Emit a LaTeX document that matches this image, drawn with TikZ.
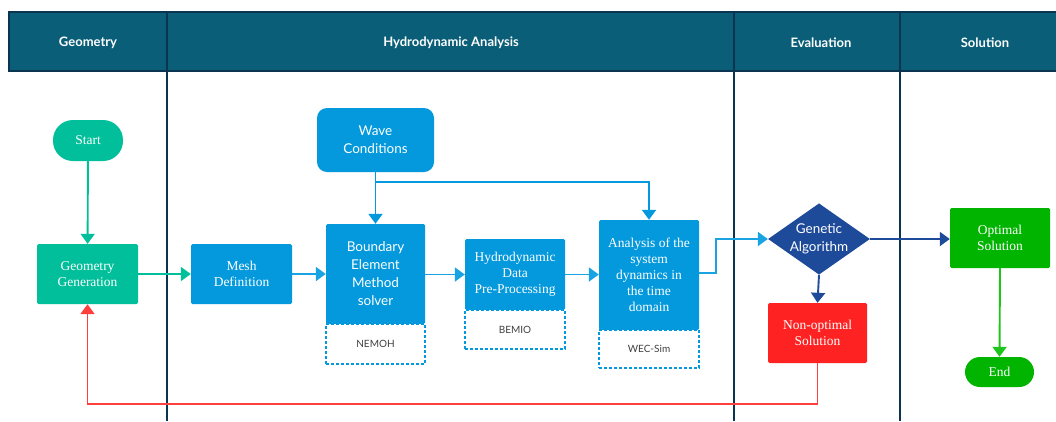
\documentclass[tikz,border=0pt]{standalone}
\usepackage{fontspec}
\setmainfont{Liberation Serif}
\newfontfamily\lato{Lato}
\usetikzlibrary{arrows.meta,shapes.geometric}
\definecolor{hdr}{HTML}{0A5E78}
\definecolor{hdrline}{HTML}{0B3450}
\definecolor{tealc}{HTML}{00BF9A}
\definecolor{bluec}{HTML}{0399DC}
\definecolor{bluel}{HTML}{1AA3E3}
\definecolor{dblue}{HTML}{1E4A9A}
\definecolor{redc}{HTML}{FF2222}
\definecolor{redl}{HTML}{FF3E3E}
\definecolor{greenc}{HTML}{00B400}
\definecolor{greenl}{HTML}{1CC41C}
\begin{document}
\begin{tikzpicture}[x=1pt,y=-1pt,
  hdrtext/.style={text=white,font=\lato\bfseries\fontsize{13}{15}\selectfont},
  lane/.style={draw=hdrline,line width=1.8pt},
  box/.style={draw=none,text=white,align=center,inner sep=0pt,rounded corners=1.5pt,font=\fontsize{13.5}{16}\selectfont},
  sbox/.style={box,font=\lato\fontsize{13.5}{18}\selectfont},
  dbox/.style={draw=bluec,dashed,dash pattern=on 3pt off 2pt,line width=1.5pt,fill=white,inner sep=0pt,text=black!75,font=\lato\fontsize{10}{12}\selectfont},
  arr/.style={line width=1.9pt,-{Triangle[width=14pt,length=10pt]}},
]
\useasboundingbox (0,0) rectangle (1056,421);
% header
\fill[hdr] (9,12) rectangle (1056,71);
\draw[hdrline,line width=1.4pt] (9,12) rectangle (1058,71);
\draw[lane] (167,12) -- (167,421);
\draw[lane] (734,12) -- (734,421);
\draw[lane] (900,12) -- (900,421);
\node[hdrtext] (h1) at (88,43) {Geometry};
\node[hdrtext] (h2) at (451,43) {Hydrodynamic Analysis};
\node[hdrtext] (h3) at (821,43) {Evaluation};
\node[hdrtext] (h4) at (985,43) {Solution};
% nodes
\node[box,fill=tealc,rounded corners=20pt,minimum width=70pt,minimum height=41pt] (start) at (88,140.5) {Start};
\node[box,fill=tealc,minimum width=101pt,minimum height=60pt] (geo) at (87.5,274) {Geometry\\Generation};
\node[box,fill=bluec,minimum width=101pt,minimum height=60pt] (mesh) at (241.5,274) {Mesh\\Definition};
\node[sbox,fill=bluec,rounded corners=10pt,minimum width=117pt,minimum height=64pt] (wave) at (375.5,140) {Wave\\Conditions};
\node[sbox,fill=bluec,minimum width=99pt,minimum height=100pt] (bem) at (375.5,274) {Boundary\\Element\\Method\\solver};
\node[dbox,minimum width=99pt,minimum height=40pt] (nemoh) at (375.5,344) {NEMOH};
\node[box,fill=bluec,minimum width=100pt,minimum height=71pt] (hydro) at (515,274.5) {Hydrodynamic\\Data\\Pre-Processing};
\node[dbox,minimum width=100pt,minimum height=39pt] (bemio) at (515,329.5) {BEMIO};
\node[box,fill=bluec,minimum width=100pt,minimum height=110pt] (ana) at (649,275) {Analysis of the\\system\\dynamics in\\the time\\domain};
\node[dbox,minimum width=100pt,minimum height=38pt] (wec) at (649,349) {WEC-Sim};
\node[diamond,fill=dblue,text=white,align=center,inner sep=0pt,aspect=1.43,minimum width=96pt,minimum height=67pt,font=\lato\fontsize{13.5}{18}\selectfont] (ga) at (819,239) {Genetic\\Algorithm};
\node[box,fill=redc,minimum width=99pt,minimum height=60pt] (nonopt) at (817.5,333) {Non-optimal\\Solution};
\node[box,fill=greenc,minimum width=100pt,minimum height=60pt] (opt) at (1000,238) {Optimal\\Solution};
\node[box,fill=greenc,rounded corners=15pt,minimum width=69pt,minimum height=30pt] (end) at (999.5,372) {End};
% connectors
\coordinate (wsplit) at (375.5,182);
\draw[arr,tealc] (start) -- (geo);
\draw[arr,tealc] (geo.east) -- (mesh.west);
\draw[arr,bluel] (mesh.east) -- (bem.west |- mesh.east);
\draw[arr,bluec] (wave.south) -- (bem.north);
\draw[arr,bluec] (wsplit) -| (ana.north);
\draw[arr,bluel] (bem.east |- hydro.west) -- (hydro.west);
\draw[arr,bluel] (hydro.east) -- (ana.west |- hydro.east);
\coordinate (ajog) at (716,273);
\draw[arr,bluel] (ana.east |- ajog) -- (ajog) |- (ga.west);
\draw[arr,dblue] (ga.east) -- (opt.west |- ga.east);
\draw[arr,dblue] (ga.south) -- (nonopt.north);
\draw[arr,greenl] (opt.south) -- (end.north);
\coordinate (rloop) at (817.5,404);
\draw[arr,redl] (nonopt.south) -- (rloop) -| (geo.south);
\end{tikzpicture}
\end{document}
